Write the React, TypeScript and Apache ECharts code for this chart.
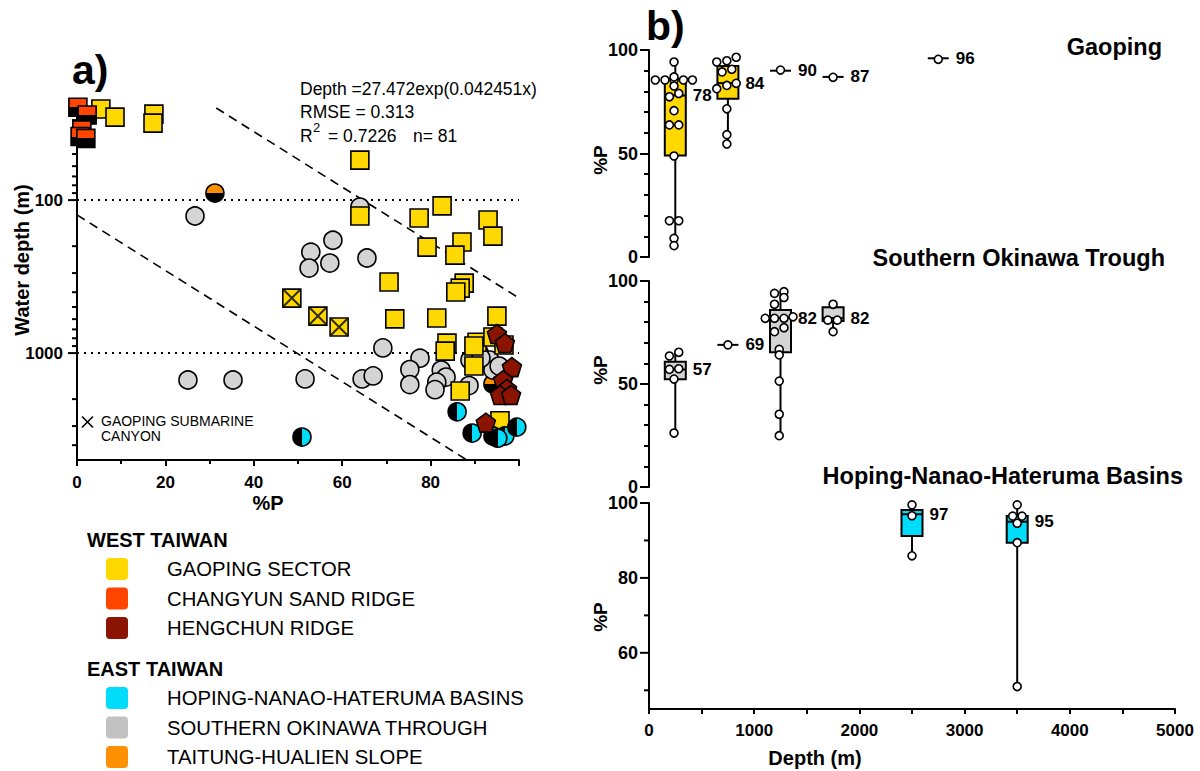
import React, { useEffect, useRef } from 'react';
import * as echarts from 'echarts';

const FONT = '"Liberation Sans", Arial, Helvetica, sans-serif';
const fnt = (size: number, bold = true) => `${bold ? 'bold ' : ''}${size}px ${FONT}`;

// ---------------- Panel a) : [%P, water depth (m)] ----------------
const gaopingSector = [
  [5.4, 25.4], [8.6, 28.7], [17.4, 27.4], [17.2, 31.4],
  [64.0, 54.8], [64.0, 127], [82.6, 109], [77.4, 131], [93.0, 135], [94.1, 172], [79.2, 203],
  [87.1, 188], [85.5, 229], [70.6, 343], [87.6, 349], [86.7, 376], [85.7, 399], [71.9, 598],
  [81.4, 590], [95.0, 573], [83.7, 861], [83.3, 971], [90.5, 849], [89.8, 898], [94.1, 785],
  [96.6, 886], [89.8, 1215], [86.7, 1770], [95.7, 2770],
];
const gaopingCanyon = [[48.6, 437], [54.5, 573], [59.3, 676]];
const changyunSandRidge = [[0.2, 24.7], [2.3, 27.8], [1.1, 34.8], [0.7, 38.4], [2.0, 39.5]];
const hengchunRidge = [
  [95.0, 751], [96.8, 860], [98.4, 1235], [96.4, 1503], [97.3, 1717], [95.7, 1880], [98.2, 1880], [92.5, 2850],
];
const hopingBasins = [
  [86.0, 2421], [50.9, 3540], [89.4, 3335], [94.1, 3483], [96.8, 3483], [99.5, 3048], [95.2, 3600],
];
const southernOkinawa = [
  [26.7, 127], [64.0, 111], [57.9, 183], [52.9, 219], [52.5, 278], [57.2, 258], [65.6, 239],
  [69.2, 925], [51.6, 1475], [25.1, 1500], [35.3, 1500], [64.5, 1475], [67.0, 1410],
  [77.6, 1080], [75.3, 1282], [75.3, 1607], [82.4, 1291], [83.5, 1435], [81.4, 1549], [81.0, 1734],
  [88.9, 1111], [88.7, 1630], [93.4, 1111], [94.1, 1291], [91.4, 1080], [95.5, 1216],
];
const taitungSlope = [[91.0, 1000], [94.1, 1595], [31.2, 90]];

const upperBand = [[31.5, 25], [100, 437]];
const lowerBand = [[0, 125], [88.2, 5000]];
const referenceDepths = [100, 1000];
const depthTicks = [30, 40, 50, 60, 70, 80, 90, 100, 200, 300, 400, 500, 600, 700, 800, 900, 1000, 2000, 3000, 4000];
const depthTickLabels = [100, 1000];

// ---------------- Panel b) : boxes [depth, min, q1, median, q3, max] ----------------
const gaopingBoxes = [
  [250, 5.5, 49, 78, 86, 94.2],
  [750, 54.6, 76.5, 84, 92.3, 96.5],
  [1250, 90, 90, 90, 90, 90],
  [1750, 87, 87, 87, 87, 87],
  [2750, 96, 96, 96, 96, 96],
];
const gaopingPoints = [
  [60, 85.5], [152, 85.5], [238, 85.5], [327, 85.5], [413, 85.5],
  [238, 94.2], [238, 87], [238, 82.6], [194, 77.4], [283, 79], [238, 70.7], [194, 63.8], [283, 63.8],
  [238, 48.8], [194, 17.5], [283, 17.5], [238, 9], [238, 5.5],
  [644, 94.2], [740, 94.8], [829, 96.5], [695, 89.4], [787, 90.7], [644, 81.3], [740, 82.9], [829, 83.9],
  [740, 71.6], [740, 59.1], [740, 54.6],
  [1250, 90.3], [1750, 86.8], [2750, 95.5],
];
const okinawaBoxes = [
  [250, 26.2, 52.3, 57, 60.8, 65.4],
  [750, 69, 69, 69, 69, 69],
  [1250, 24.9, 65.4, 82, 85.9, 94.8],
  [1750, 75.4, 80.6, 82, 87.2, 88.7],
];
const okinawaPoints = [
  [194, 63.6], [283, 65.4], [194, 57.1], [283, 57.4], [238, 52.4], [238, 26.2],
  [750, 69],
  [1193, 94], [1283, 94.8], [1283, 92], [1193, 88.7], [1105, 81.9], [1193, 81.9], [1283, 81.9], [1369, 82.6],
  [1193, 75.4], [1283, 77.3], [1238, 66.8], [1238, 64.1], [1238, 51.4], [1238, 35.3], [1238, 24.9],
  [1750, 88.7], [1700, 81], [1790, 81], [1750, 75.4],
];
const hopingBoxes = [
  [2500, 85.9, 91.2, 97, 98.1, 99.5],
  [3500, 51, 89.4, 95, 96.5, 99.5],
];
const hopingPoints = [
  [2500, 99.5], [2500, 96.6], [2500, 85.9],
  [3500, 99.5], [3457, 96.5], [3546, 96.5], [3500, 94.6], [3500, 89.4], [3500, 51],
];
const hopingAxisTicks = [50, 60, 70, 80, 90, 100];
const hopingAxisLabels = [60, 80, 100];

// ---------------- legend ----------------
const westLegend = ['GAOPING SECTOR', 'CHANGYUN SAND RIDGE', 'HENGCHUN RIDGE'];
const eastLegend = ['HOPING-NANAO-HATERUMA BASINS', 'SOUTHERN OKINAWA THROUGH', 'TAITUNG-HUALIEN SLOPE'];

const C_YELLOW = '#FFD800';
const C_RED = '#FF4500';
const C_DARKRED = '#8B1400';
const C_CYAN = '#00DDFA';
const C_GRAY = '#D4D4D4';
const C_GRAY_LEG = '#C2C2C2';
const C_ORANGE = '#FF9000';
const westColors = [C_YELLOW, C_RED, C_DARKRED];
const eastColors = [C_CYAN, C_GRAY_LEG, C_ORANGE];

const split = (horizontal: boolean, a: string, b: string) =>
  new echarts.graphic.LinearGradient(0, 0, horizontal ? 1 : 0, horizontal ? 0 : 1, [
    { offset: 0, color: a }, { offset: 0.5, color: a }, { offset: 0.5, color: b }, { offset: 1, color: b },
  ]);

const txt = (x: number, y: number, text: string, font: string, align = 'left', vAlign = 'middle', extra: any = {}) => ({
  type: 'text', x, y, silent: true, ...extra,
  style: { text, font, fill: '#000', align, verticalAlign: vAlign, textAlign: align, textVerticalAlign: vAlign },
});

const BOX_W = 21;

function boxSeries(data: number[][], color: string, idx: number) {
  return {
    type: 'custom', xAxisIndex: idx, yAxisIndex: idx, z: 3,
    encode: { x: 0, y: [1, 2, 3, 4, 5] },
    data,
    renderItem: (_p: any, api: any) => {
      const d = api.value(0);
      const vals = [1, 2, 3, 4, 5].map((i) => api.value(i));
      const ys = vals.map((v) => api.coord([d, v])[1]);
      const x = api.coord([d, vals[2]])[0];
      const children: any[] = [];
      if (vals[4] !== vals[0]) {
        children.push({ type: 'line', shape: { x1: x, y1: ys[4], x2: x, y2: ys[0] }, style: { stroke: '#000', lineWidth: 2 } });
      }
      if (vals[3] !== vals[1]) {
        children.push({ type: 'rect', shape: { x: x - BOX_W / 2, y: ys[3], width: BOX_W, height: ys[1] - ys[3] }, style: { fill: color, stroke: '#000', lineWidth: 2 } });
      }
      children.push({ type: 'line', shape: { x1: x - BOX_W / 2, y1: ys[2], x2: x + BOX_W / 2, y2: ys[2] }, style: { stroke: '#000', lineWidth: 2 } });
      children.push({
        type: 'text', x: x + BOX_W / 2 + 7, y: ys[2],
        style: { text: String(vals[2]), font: fnt(17), fill: '#000', align: 'left', verticalAlign: 'middle', textAlign: 'left', textVerticalAlign: 'middle' },
      });
      return { type: 'group', children };
    },
  };
}

function pointSeries(data: number[][], idx: number) {
  return {
    type: 'scatter', xAxisIndex: idx, yAxisIndex: idx, z: 5, data, symbol: 'circle', symbolSize: 8,
    itemStyle: { color: '#fff', borderColor: '#000', borderWidth: 1.6, opacity: 1 }, clip: false,
  };
}

function tickSeries(ticks: number[], labels: number[], idx: number, majorLen: number, minorLen: number, font: string, gap: number) {
  return {
    type: 'custom', xAxisIndex: idx, yAxisIndex: idx, z: 4,
    encode: { x: 0, y: 1 },
    data: ticks.map((t) => [0, t]),
    renderItem: (_p: any, api: any) => {
      const v = api.value(1);
      const p = api.coord([0, v]);
      const isMajor = labels.includes(v);
      const len = isMajor ? majorLen : minorLen;
      const children: any[] = [
        { type: 'line', shape: { x1: p[0] - len, y1: p[1], x2: p[0], y2: p[1] }, style: { stroke: '#000', lineWidth: 2 } },
      ];
      if (isMajor) {
        children.push({
          type: 'text', x: p[0] - gap, y: p[1],
          style: { text: String(v), font, fill: '#000', align: 'right', verticalAlign: 'middle', textAlign: 'right', textVerticalAlign: 'middle' },
        });
      }
      return { type: 'group', children };
    },
  };
}

const axisLineStyle = { show: true, onZero: false, lineStyle: { color: '#000', width: 2 } };

export default function App() {
  const ref = useRef<HTMLDivElement>(null);
  useEffect(() => {
    const chart = echarts.init(ref.current!, null, { renderer: 'svg' });

    const sqStyle = { borderColor: '#000', borderWidth: 1.6, opacity: 1 };
    const pentagon = 'path://M0,-1L0.951,-0.309L0.588,0.809L-0.588,0.809L-0.951,-0.309Z';

    const graphics: any[] = [
      txt(72, 70, 'a)', fnt(41), 'left', 'middle'),
      txt(646, 26, 'b)', fnt(41), 'left', 'middle'),
      txt(300, 89, 'Depth =27.472exp(0.042451x)', fnt(17.5, false), 'left', 'middle'),
      txt(300, 112, 'RMSE = 0.313', fnt(17.5, false), 'left', 'middle'),
      txt(300, 136, 'R', fnt(17.5, false), 'left', 'middle'),
      txt(313, 127, '2', fnt(13, false), 'left', 'middle'),
      txt(328, 136, '= 0.7226', fnt(17.5, false), 'left', 'middle'),
      txt(413, 136, 'n= 81', fnt(17.5, false), 'left', 'middle'),
      txt(22, 260, 'Water depth (m)', fnt(20), 'center', 'middle', { rotation: Math.PI / 2 }),
      txt(268, 503, '%P', fnt(20), 'center', 'middle'),
      { type: 'line', silent: true, shape: { x1: 82, y1: 416.5, x2: 93, y2: 427.5 }, style: { stroke: '#000', lineWidth: 1.6 } },
      { type: 'line', silent: true, shape: { x1: 93, y1: 416.5, x2: 82, y2: 427.5 }, style: { stroke: '#000', lineWidth: 1.6 } },
      txt(101, 421, 'GAOPING SUBMARINE', fnt(14, false), 'left', 'middle'),
      txt(101, 436, 'CANYON', fnt(14, false), 'left', 'middle'),
      txt(1162, 47, 'Gaoping', fnt(23.5), 'right', 'middle'),
      txt(1165, 258, 'Southern Okinawa Trough', fnt(23.5), 'right', 'middle'),
      txt(1183, 476, 'Hoping-Nanao-Hateruma Basins', fnt(23.5), 'right', 'middle'),
      txt(600, 160, '%P', fnt(19), 'center', 'middle', { rotation: Math.PI / 2 }),
      txt(600, 370, '%P', fnt(19), 'center', 'middle', { rotation: Math.PI / 2 }),
      txt(600, 617, '%P', fnt(19), 'center', 'middle', { rotation: Math.PI / 2 }),
      txt(815, 758, 'Depth (m)', fnt(20), 'center', 'middle'),
      txt(87, 540, 'WEST TAIWAN', fnt(20), 'left', 'middle'),
      txt(87, 669, 'EAST TAIWAN', fnt(20), 'left', 'middle'),
    ];
    const westY = [569, 598.5, 628];
    const eastY = [698, 727.5, 757];
    westLegend.forEach((name, i) => {
      graphics.push({ type: 'rect', silent: true, shape: { x: 106, y: westY[i] - 11, width: 22, height: 22, r: 4 }, style: { fill: westColors[i] } });
      graphics.push(txt(167, westY[i], name, fnt(20.3, false), 'left', 'middle'));
    });
    eastLegend.forEach((name, i) => {
      graphics.push({ type: 'rect', silent: true, shape: { x: 106, y: eastY[i] - 11, width: 22, height: 22, r: 4 }, style: { fill: eastColors[i] } });
      graphics.push(txt(167, eastY[i], name, fnt(20.3, false), 'left', 'middle'));
    });

    const bAxisLabel = { color: '#000', fontWeight: 'bold', fontSize: 18, fontFamily: FONT, margin: 11 };

    const option: any = {
      animation: false,
      backgroundColor: '#fff',
      textStyle: { fontFamily: FONT },
      grid: [
        { left: 77, top: 108, width: 442, height: 352 },
        { left: 649, top: 50, width: 526, height: 207 },
        { left: 649, top: 281, width: 526, height: 206 },
        { left: 649, top: 503, width: 526, height: 206 },
      ],
      xAxis: [
        {
          gridIndex: 0, type: 'value', min: 0, max: 100, interval: 20,
          axisLine: axisLineStyle,
          axisTick: { show: true, length: 6, lineStyle: { color: '#000', width: 2 } },
          minorTick: { show: true, splitNumber: 2, length: 4, lineStyle: { color: '#000', width: 2 } },
          splitLine: { show: false },
          axisLabel: { color: '#000', fontWeight: 'bold', fontSize: 17, fontFamily: FONT, margin: 14, formatter: (v: number) => (v === 100 ? '' : String(v)) },
        },
        { gridIndex: 1, type: 'value', min: 0, max: 5000, show: false },
        { gridIndex: 2, type: 'value', min: 0, max: 5000, show: false },
        {
          gridIndex: 3, type: 'value', min: 0, max: 5000, interval: 1000,
          axisLine: axisLineStyle,
          axisTick: { show: true, length: 5, lineStyle: { color: '#000', width: 2 } },
          minorTick: { show: true, splitNumber: 2, length: 5, lineStyle: { color: '#000', width: 2 } },
          splitLine: { show: false },
          axisLabel: { color: '#000', fontWeight: 'bold', fontSize: 17, fontFamily: FONT, margin: 13, formatter: (v: number) => String(v) },
        },
      ],
      yAxis: [
        {
          gridIndex: 0, type: 'log', logBase: 10, min: 25, max: 5000, inverse: true,
          axisLine: axisLineStyle, axisTick: { show: false }, axisLabel: { show: false },
          splitLine: { show: false }, minorTick: { show: false }, minorSplitLine: { show: false },
        },
        {
          gridIndex: 1, type: 'value', min: 0, max: 100, interval: 50,
          axisLine: axisLineStyle,
          axisTick: { show: true, length: 9, lineStyle: { color: '#000', width: 2 } },
          minorTick: { show: true, splitNumber: 5, length: 5, lineStyle: { color: '#000', width: 2 } },
          splitLine: { show: false }, axisLabel: bAxisLabel,
        },
        {
          gridIndex: 2, type: 'value', min: 0, max: 100, interval: 50,
          axisLine: axisLineStyle,
          axisTick: { show: true, length: 9, lineStyle: { color: '#000', width: 2 } },
          minorTick: { show: true, splitNumber: 5, length: 5, lineStyle: { color: '#000', width: 2 } },
          splitLine: { show: false }, axisLabel: bAxisLabel,
        },
        {
          gridIndex: 3, type: 'value', min: 45, max: 100,
          axisLine: axisLineStyle, axisTick: { show: false }, axisLabel: { show: false },
          splitLine: { show: false },
        },
      ],
      graphic: { elements: graphics },
      series: [
        ...referenceDepths.map((d) => ({
          type: 'line', xAxisIndex: 0, yAxisIndex: 0, data: [[0, d], [100, d]], symbol: 'none', z: 1,
          lineStyle: { color: '#000', width: 2, type: [2, 5] },
        })),
        {
          type: 'line', xAxisIndex: 0, yAxisIndex: 0, data: upperBand, symbol: 'none', z: 1,
          lineStyle: { color: '#000', width: 1.6, type: [9, 6] },
        },
        {
          type: 'line', xAxisIndex: 0, yAxisIndex: 0, data: lowerBand, symbol: 'none', z: 1,
          lineStyle: { color: '#000', width: 1.6, type: [9, 6] },
        },
        tickSeries(depthTicks, depthTickLabels, 0, 9, 5, fnt(17), 14),
        {
          type: 'scatter', xAxisIndex: 0, yAxisIndex: 0, data: taitungSlope, symbol: 'circle', symbolSize: 18, clip: false, z: 2,
          itemStyle: { color: split(false, C_ORANGE, '#000'), ...sqStyle },
        },
        {
          type: 'scatter', xAxisIndex: 0, yAxisIndex: 0, data: southernOkinawa, symbol: 'circle', symbolSize: 18, clip: false, z: 2,
          itemStyle: { color: C_GRAY, ...sqStyle },
        },
        {
          type: 'scatter', xAxisIndex: 0, yAxisIndex: 0, data: gaopingSector, symbol: 'rect', symbolSize: 18, clip: false, z: 3,
          itemStyle: { color: C_YELLOW, ...sqStyle },
        },
        {
          type: 'scatter', xAxisIndex: 0, yAxisIndex: 0, data: gaopingCanyon, symbol: 'rect', symbolSize: 18, clip: false, z: 3,
          itemStyle: { color: C_YELLOW, ...sqStyle },
        },
        {
          type: 'scatter', xAxisIndex: 0, yAxisIndex: 0, data: gaopingCanyon, symbol: 'path://M0,0L10,10M10,0L0,10', symbolSize: 16, clip: false, z: 4,
          itemStyle: { color: 'transparent', borderColor: '#000', borderWidth: 2 },
        },
        {
          type: 'scatter', xAxisIndex: 0, yAxisIndex: 0, data: hopingBasins, symbol: 'circle', symbolSize: 18, clip: false, z: 3,
          itemStyle: { color: split(true, '#000', C_CYAN), ...sqStyle },
        },
        {
          type: 'scatter', xAxisIndex: 0, yAxisIndex: 0, data: hengchunRidge, symbol: pentagon, symbolSize: 19, clip: false, z: 3,
          itemStyle: { color: C_DARKRED, ...sqStyle },
        },
        {
          type: 'scatter', xAxisIndex: 0, yAxisIndex: 0, data: changyunSandRidge, symbol: 'rect', symbolSize: 18, clip: false, z: 3,
          itemStyle: { color: split(false, C_RED, '#000'), ...sqStyle },
        },
        boxSeries(gaopingBoxes, C_YELLOW, 1),
        pointSeries(gaopingPoints, 1),
        boxSeries(okinawaBoxes, C_GRAY, 2),
        pointSeries(okinawaPoints, 2),
        boxSeries(hopingBoxes, C_CYAN, 3),
        pointSeries(hopingPoints, 3),
        tickSeries(hopingAxisTicks, hopingAxisLabels, 3, 9, 5, fnt(18), 11),
      ],
    };
    chart.setOption(option);
    return () => chart.dispose();
  }, []);
  return <div ref={ref} style={{ position: 'fixed', left: 0, top: 0, width: 1200, height: 771, background: '#fff' }} />;
}
